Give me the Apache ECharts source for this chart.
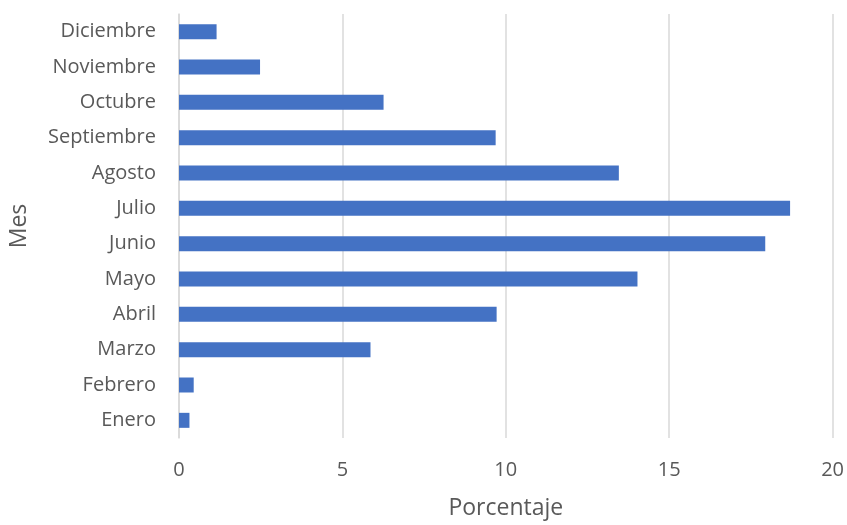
<!DOCTYPE html>
<html>
<head>
<meta charset="utf-8">
<script src="https://cdn.jsdelivr.net/npm/echarts@6/dist/echarts.min.js"></script>
<style>
  html, body { margin: 0; padding: 0; background: #ffffff; }
  #chart { width: 847px; height: 525px; }
</style>
</head>
<body>
<div id="chart"></div>
<script>
// Monthly share (%) — categories listed bottom to top
const months = ['Enero', 'Febrero', 'Marzo', 'Abril', 'Mayo', 'Junio',
                'Julio', 'Agosto', 'Septiembre', 'Octubre', 'Noviembre', 'Diciembre'];
const percentages = [0.32, 0.45, 5.86, 9.72, 14.03, 17.94, 18.70, 13.46, 9.69, 6.26, 2.48, 1.15];
const xTicks = [0, 5, 10, 15, 20];

const FONT = '"Open Sans", sans-serif';
const TEXT = '#595959';

const chart = echarts.init(document.getElementById('chart'), null, { renderer: 'canvas' });
chart.setOption({
  animation: false,
  backgroundColor: '#ffffff',
  grid: { left: 179, right: 14, top: 14, bottom: 83, containLabel: false },
  xAxis: {
    type: 'value',
    min: xTicks[0],
    max: xTicks[xTicks.length - 1],
    interval: 5,
    name: 'Porcentaje',
    nameLocation: 'middle',
    nameGap: 59,
    nameTextStyle: { fontFamily: FONT, fontSize: 23, color: TEXT },
    axisLine: { show: false },
    axisTick: { show: false },
    axisLabel: { fontFamily: FONT, fontSize: 20, color: TEXT, margin: 22 },
    splitLine: { show: true, lineStyle: { color: '#d9d9d9', width: 1.5 } }
  },
  yAxis: {
    type: 'category',
    data: months,
    name: 'Mes',
    nameLocation: 'middle',
    nameGap: 148,
    nameRotate: 90,
    nameTextStyle: { fontFamily: FONT, fontSize: 23, color: TEXT },
    axisLine: { show: true, lineStyle: { color: '#d9d9d9', width: 1.5 } },
    axisTick: { show: false },
    axisLabel: { fontFamily: FONT, fontSize: 20, color: TEXT, margin: 23 },
    splitLine: { show: false }
  },
  series: [{
    type: 'bar',
    data: percentages,
    barWidth: 15,
    itemStyle: { color: '#4472c4' }
  }]
});
</script>
</body>
</html>
